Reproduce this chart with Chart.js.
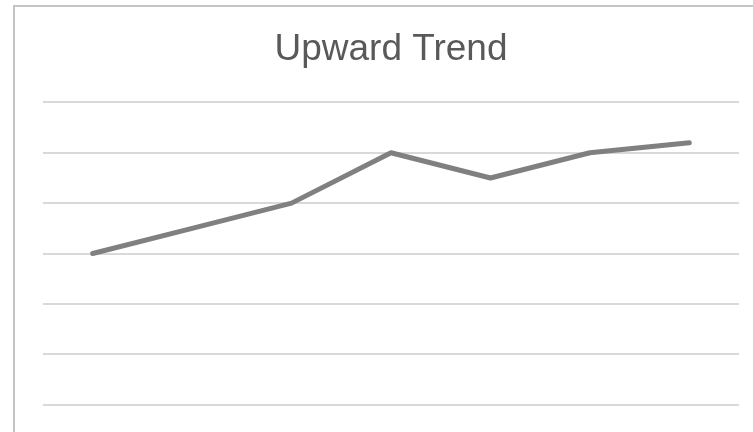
<!DOCTYPE html>
<html>
<head>
<meta charset="utf-8">
<script src="https://cdn.jsdelivr.net/npm/chart.js@4"></script>
<style>
    html, body {
        margin: 0;
        width: 753px;
        height: 432px;
        overflow: hidden;
        background: #ffffff;
    }
    /* 外框, 右侧和底部被裁掉 */
    .frame {
        position: absolute;
        left: 13px;
        top: 5px;
        width: 744px;
        height: 464px;
        border: 2px solid #c4c4c4;
        background: #ffffff;
    }
    .frame canvas {
        display: block;
    }
</style>
</head>
<body>
<div class="frame">
    <canvas id="trendChart" width="740" height="460"></canvas>
</div>
<script>
    const categories = ['1', '2', '3', '4', '5', '6', '7'];
    const trendValues = [4, 4.5, 5, 6, 5.5, 6, 6.2];
    const yTicks = [0, 1, 2, 3, 4, 5, 6, 7];

    const ctx = document.getElementById('trendChart').getContext('2d');
    new Chart(ctx, {
        type: 'line',
        data: {
            labels: categories,
            datasets: [{
                label: 'Trend',
                data: trendValues,
                borderColor: '#808080',
                borderWidth: 5,
                pointRadius: 0,
                tension: 0,
                fill: false,
                borderCapStyle: 'round',
                borderJoinStyle: 'round'
            }]
        },
        options: {
            responsive: false,
            animation: false,
            layout: {
                padding: { left: 28, right: 16, top: 0, bottom: 12 }
            },
            plugins: {
                legend: { display: false },
                tooltip: { enabled: false },
                title: {
                    display: true,
                    text: 'Upward Trend',
                    fullSize: false,
                    color: '#595959',
                    font: { family: 'Liberation Sans, Arial, sans-serif', size: 37, weight: 'normal' },
                    padding: { top: 21, bottom: 30 }
                }
            },
            scales: {
                x: {
                    display: false,
                    offset: true
                },
                y: {
                    display: true,
                    min: yTicks[0],
                    max: yTicks[yTicks.length - 1],
                    afterBuildTicks: (axis) => {
                        axis.ticks = yTicks.map(v => ({ value: v }));
                    },
                    ticks: { display: false },
                    border: { display: false },
                    grid: {
                        color: '#d9d9d9',
                        lineWidth: 2,
                        drawTicks: false,
                        tickLength: 0
                    }
                }
            }
        }
    });
</script>
</body>
</html>
